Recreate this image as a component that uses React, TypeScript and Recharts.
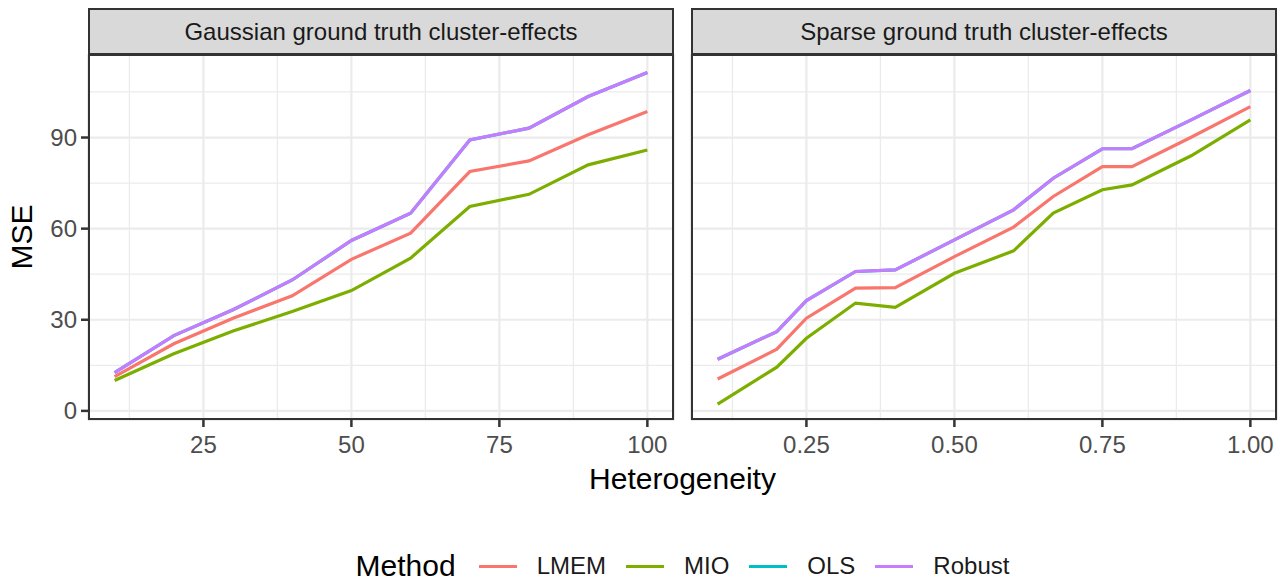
import { CartesianGrid, Line, LineChart, ReferenceLine, XAxis, YAxis } from "recharts";

// Gaussian panel
const heteroGauss = [10, 20, 30, 40, 50, 60, 70, 80, 90, 100];
const lmemGauss = [11.3, 22.1, 30.5, 37.9, 49.9, 58.5, 78.8, 82.3, 90.9, 98.6];
const mioGauss = [10.0, 18.8, 26.3, 32.7, 39.6, 50.3, 67.3, 71.3, 81.0, 85.9];
const olsGauss = [12.6, 24.8, 33.3, 43.1, 56.1, 65.1, 89.2, 93.1, 103.5, 111.4];
const robustGauss = [12.6, 24.8, 33.3, 43.1, 56.1, 65.1, 89.2, 93.1, 103.5, 111.4];

// Sparse panel
const heteroSparse = [0.1, 0.2, 0.25, 0.333, 0.4, 0.5, 0.6, 0.667, 0.75, 0.8, 0.9, 1.0];
const lmemSparse = [10.5, 20.3, 30.5, 40.4, 40.6, 50.8, 60.5, 70.6, 80.4, 80.4, 90.1, 100.2];
const mioSparse = [2.2, 14.4, 23.9, 35.5, 34.1, 45.3, 52.7, 65.1, 72.8, 74.4, 84.0, 95.8];
const olsSparse = [17.0, 26.1, 36.3, 45.9, 46.4, 56.3, 66.2, 76.6, 86.3, 86.3, 95.8, 105.5];
const robustSparse = [17.0, 26.1, 36.3, 45.9, 46.4, 56.3, 66.2, 76.6, 86.3, 86.3, 95.8, 105.5];

const yTicks = [0, 30, 60, 90];
const yMinor = [15, 45, 75, 105];
const xTicksGauss = [25, 50, 75, 100];
const xMinorGauss = [12.5, 37.5, 62.5, 87.5];
const xTicksSparse = [0.25, 0.5, 0.75, 1.0];
const xMinorSparse = [0.125, 0.375, 0.625, 0.875];

const methods = ["LMEM", "MIO", "OLS", "Robust"];
const colors = ["#F8766D", "#7CAE00", "#00BFC4", "#C77CFF"];

const gaussRows = heteroGauss.map((h, i) => ({
  h,
  LMEM: lmemGauss[i],
  MIO: mioGauss[i],
  OLS: olsGauss[i],
  Robust: robustGauss[i],
}));
const sparseRows = heteroSparse.map((h, i) => ({
  h,
  LMEM: lmemSparse[i],
  MIO: mioSparse[i],
  OLS: olsSparse[i],
  Robust: robustSparse[i],
}));

const FONT = '"Liberation Sans", Arial, Helvetica, sans-serif';
const tickStyle = { fontSize: 24, fill: "#4d4d4d", fontFamily: FONT };
const yDomain: [number, number] = [-3, 117.5];

const PANEL_TOP = 54;
const PANEL_BOTTOM = 420;
const P1 = { left: 88, right: 674 };
const P2 = { left: 691, right: 1277 };

function Panel({
  rows,
  domain,
  ticks,
  minor,
  fmt,
  showY,
  width,
  marginLeft,
  marginRight,
}: {
  rows: any[];
  domain: [number, number];
  ticks: number[];
  minor: number[];
  fmt: (v: number) => string;
  showY: boolean;
  width: number;
  marginLeft: number;
  marginRight: number;
}) {
  return (
    <LineChart
      width={width}
      height={470}
      data={rows}
      margin={{ top: PANEL_TOP, right: marginRight, left: marginLeft, bottom: 10 }}
    >
      {yMinor.map((v) => (
        <ReferenceLine key={"ym" + v} y={v} stroke="#ebebeb" strokeWidth={1.3} />
      ))}
      {minor.map((v) => (
        <ReferenceLine key={"xm" + v} x={v} stroke="#ebebeb" strokeWidth={1.3} />
      ))}
      <CartesianGrid stroke="#ebebeb" strokeWidth={2.2} />
      <XAxis
        dataKey="h"
        type="number"
        domain={domain}
        ticks={ticks}
        allowDataOverflow
        tickFormatter={fmt}
        axisLine={false}
        tickLine={{ stroke: "#333333", strokeWidth: 2.5 }}
        tickSize={7}
        tickMargin={9}
        tick={tickStyle}
        height={40}
      />
      <YAxis
        type="number"
        domain={yDomain}
        ticks={yTicks}
        allowDataOverflow
        hide={!showY}
        axisLine={false}
        tickLine={{ stroke: "#333333", strokeWidth: 2.5 }}
        tickSize={7}
        tickMargin={4}
        tick={tickStyle}
        width={80}
      />
      {methods.map((m, i) => (
        <Line
          key={m}
          dataKey={m}
          type="linear"
          stroke={colors[i]}
          strokeWidth={3.2}
          dot={false}
          activeDot={false}
          isAnimationActive={false}
        />
      ))}
    </LineChart>
  );
}

function Strip({ left, right, label }: { left: number; right: number; label: string }) {
  return (
    <div
      style={{
        position: "absolute",
        left,
        top: 8,
        width: right - left,
        height: PANEL_TOP - 8 + 1,
        boxSizing: "border-box",
        border: "2px solid #333333",
        background: "#d9d9d9",
        display: "flex",
        alignItems: "center",
        justifyContent: "center",
        fontSize: 24,
        color: "#1a1a1a",
        lineHeight: "24px",
      }}
    >
      {label}
    </div>
  );
}

function Border({ left, right }: { left: number; right: number }) {
  return (
    <div
      style={{
        position: "absolute",
        left,
        top: PANEL_TOP,
        width: right - left,
        height: PANEL_BOTTOM - PANEL_TOP,
        boxSizing: "border-box",
        border: "2px solid #333333",
        pointerEvents: "none",
      }}
    />
  );
}

export default function App() {
  return (
    <div
      style={{
        position: "absolute",
        left: 0,
        top: 0,
        width: 1287,
        height: 586,
        background: "#ffffff",
        fontFamily: FONT,
        overflow: "hidden",
      }}
    >
      <div style={{ position: "absolute", left: 0, top: 0 }}>
        <Panel
          rows={gaussRows}
          domain={[5.5, 104.5]}
          ticks={xTicksGauss}
          minor={xMinorGauss}
          fmt={(v) => String(v)}
          showY
          width={690}
          marginLeft={P1.left - 80}
          marginRight={690 - P1.right}
        />
      </div>
      <div style={{ position: "absolute", left: 680, top: 0 }}>
        <Panel
          rows={sparseRows}
          domain={[0.055, 1.045]}
          ticks={xTicksSparse}
          minor={xMinorSparse}
          fmt={(v) => v.toFixed(2)}
          showY={false}
          width={607}
          marginLeft={P2.left - 680}
          marginRight={680 + 607 - P2.right}
        />
      </div>
      <Border left={P1.left} right={P1.right} />
      <Border left={P2.left} right={P2.right} />
      <Strip left={P1.left} right={P1.right} label="Gaussian ground truth cluster-effects" />
      <Strip left={P2.left} right={P2.right} label="Sparse ground truth cluster-effects" />

      <div
        style={{
          position: "absolute",
          left: 22 - 60,
          top: (PANEL_TOP + PANEL_BOTTOM) / 2 - 15,
          width: 120,
          height: 30,
          lineHeight: "30px",
          fontSize: 30,
          color: "#000",
          textAlign: "center",
          transform: "rotate(-90deg)",
        }}
      >
        MSE
      </div>
      <div
        style={{
          position: "absolute",
          left: P1.left,
          width: P2.right - P1.left,
          top: 464,
          fontSize: 30,
          lineHeight: "30px",
          textAlign: "center",
          color: "#000",
        }}
      >
        Heterogeneity
      </div>

      <div
        style={{
          position: "absolute",
          left: P1.left,
          width: P2.right - P1.left,
          top: 546,
          height: 40,
          display: "flex",
          alignItems: "center",
          justifyContent: "center",
        }}
      >
        <span style={{ fontSize: 30, marginRight: 23, color: "#000" }}>Method</span>
        {methods.map((m, i) => (
          <span key={m} style={{ display: "flex", alignItems: "center" }}>
            <span
              style={{
                display: "inline-block",
                width: 38,
                height: 3,
                background: colors[i],
                marginRight: 20,
              }}
            />
            <span
              style={{
                fontSize: 24,
                color: "#1a1a1a",
                marginRight: i < methods.length - 1 ? 20 : 0,
              }}
            >
              {m}
            </span>
          </span>
        ))}
      </div>
    </div>
  );
}
